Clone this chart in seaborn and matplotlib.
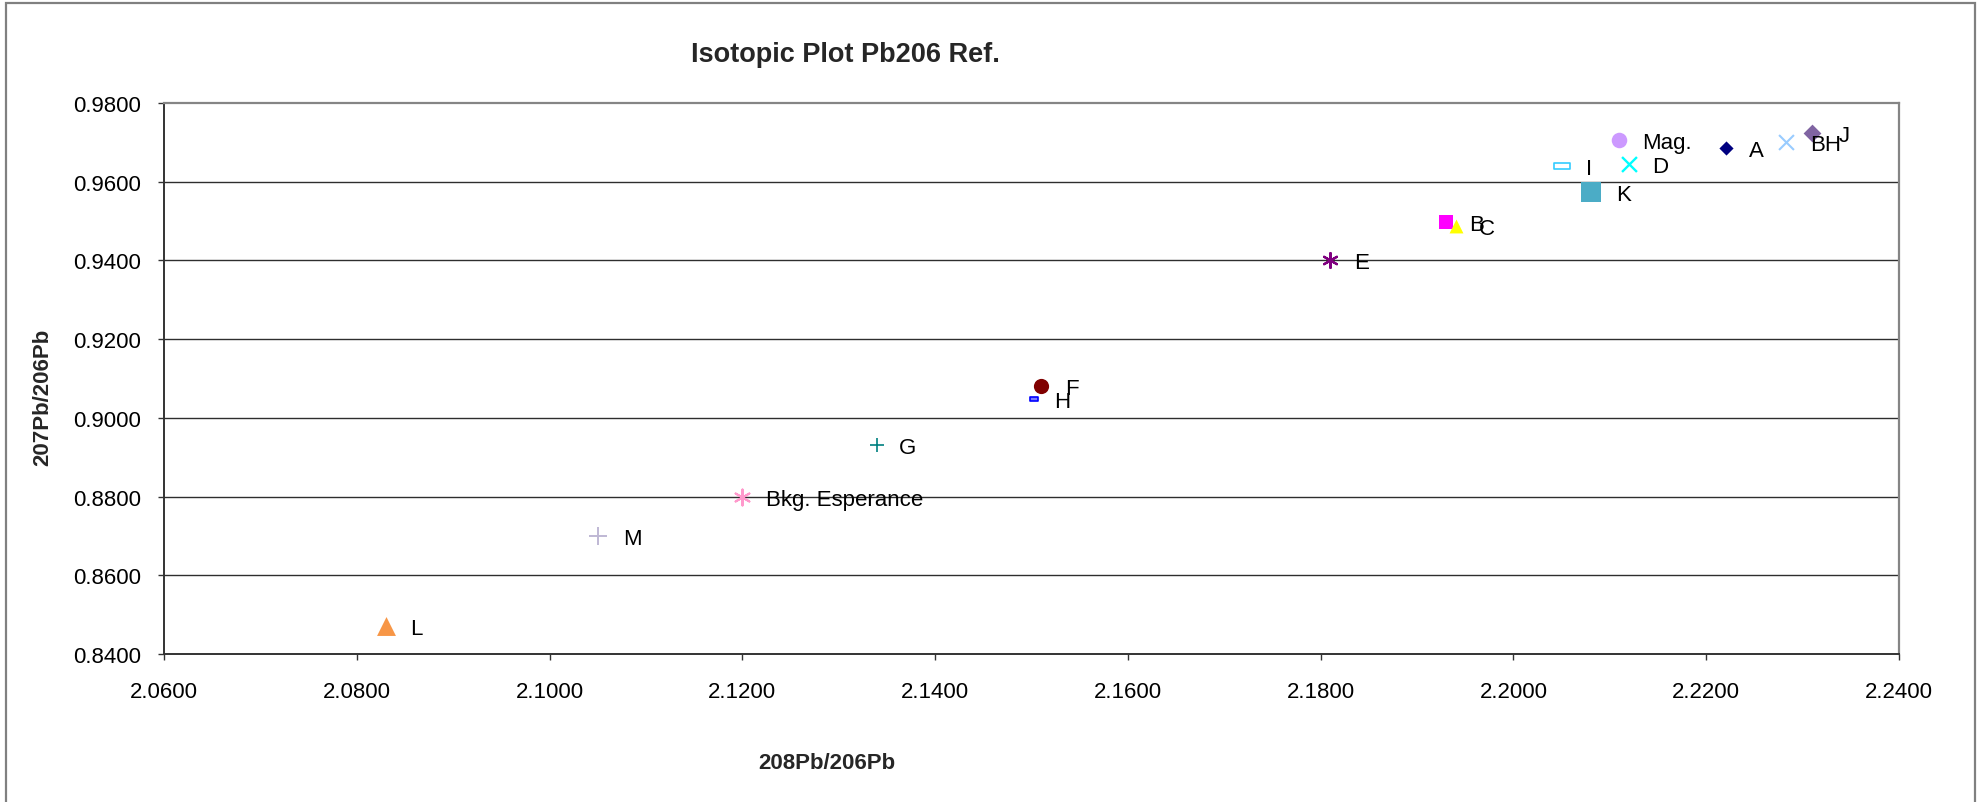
import matplotlib
matplotlib.use("Agg")
import matplotlib.pyplot as plt
from matplotlib.path import Path
from matplotlib.patches import Rectangle
from matplotlib.ticker import FormatStrFormatter
import seaborn as sns

# Sample identifiers and measured lead isotope ratios
samples = ["A", "B", "C", "D", "E", "F", "G", "H", "I", "J", "K", "L", "M",
           "Mag.", "BH", "Bkg. Esperance"]
pb208_206 = [2.2220, 2.1930, 2.1940, 2.2120, 2.1810, 2.1510, 2.1340, 2.1503,
             2.2050, 2.2310, 2.2080, 2.0830, 2.1050, 2.2110, 2.2283, 2.1200]
pb207_206 = [0.9685, 0.9497, 0.9487, 0.9645, 0.9402, 0.9080, 0.8932, 0.9048,
             0.9641, 0.9725, 0.9574, 0.8470, 0.8701, 0.9705, 0.9701, 0.8800]

x_ticks = [2.06, 2.08, 2.10, 2.12, 2.14, 2.16, 2.18, 2.20, 2.22, 2.24]
y_ticks = [0.84, 0.86, 0.88, 0.90, 0.92, 0.94, 0.96, 0.98]

# Marker shapes
dash_wide = Path([(-1, -0.36), (1, -0.36), (1, 0.36), (-1, 0.36), (-1, -0.36)],
                 [Path.MOVETO, Path.LINETO, Path.LINETO, Path.LINETO, Path.CLOSEPOLY])
dash_small = Path([(-1, -0.5), (1, -0.5), (1, 0.5), (-1, 0.5), (-1, -0.5)],
                  [Path.MOVETO, Path.LINETO, Path.LINETO, Path.LINETO, Path.CLOSEPOLY])
asterisk = (6, 2, 0)

# per-sample style: marker, face, edge, size (pt^2), edge width, label dx (px)
styles = {
    "A": ("D", "#000080", "#000080", 52, 0, 23),
    "B": ("s", "#FF00FF", "#FF00FF", 115, 0, 23),
    "C": ("^", "#FFFF00", "#FFFF00", 100, 0, 23),
    "D": ("x", "#00FFFF", "#00FFFF", 115, 1.7, 23),
    "E": (asterisk, "#800080", "#800080", 115, 1.6, 24),
    "F": ("o", "#800000", "#800000", 120, 0, 24),
    "G": ("+", "#008080", "#008080", 100, 1.2, 22),
    "H": (dash_small, "#7A7AFF", "#0000FF", 30, 1.2, 20),
    "I": (dash_wide, "white", "#33CCFF", 125, 1.2, 24),
    "J": ("D", "#8064A2", "#8064A2", 82, 0, 26),
    "K": ("s", "#4BACC6", "#4BACC6", 220, 0, 26),
    "L": ("^", "#F79646", "#F79646", 185, 0, 24),
    "M": ("+", "#BFB8D4", "#BFB8D4", 180, 1.4, 25),
    "Mag.": ("o", "#CC99FF", "#CC99FF", 125, 0, 23),
    "BH": ("x", "#99CCFF", "#99CCFF", 115, 1.5, 24),
    "Bkg. Esperance": (asterisk, "#FF99CC", "#FF99CC", 130, 1.5, 24),
}

sns.set_style("white")
plt.rcParams["font.family"] = ["Liberation Sans", "DejaVu Sans"]

fig = plt.figure(figsize=(19.8, 8.03), dpi=100)
ax = fig.add_axes([164 / 1980, 1 - 655 / 803, (1899 - 164) / 1980, (655 - 104) / 803])

for name, xv, yv in zip(samples, pb208_206, pb207_206):
    mk, fc, ec, size, lw, dx = styles[name]
    sns.scatterplot(x=[xv], y=[yv], marker=mk, s=size, color=ec,
                    facecolor=fc, edgecolor=ec, linewidth=lw, ax=ax,
                    zorder=3, clip_on=False)
    ax.annotate(name, (xv, yv), xytext=(dx, 0), textcoords="offset pixels",
                ha="left", va="center_baseline", fontsize=16, color="black",
                zorder=4)

ax.set_xlim(2.06, 2.24)
ax.set_ylim(0.84, 0.98)
ax.set_xticks(x_ticks)
ax.set_yticks(y_ticks)
ax.xaxis.set_major_formatter(FormatStrFormatter("%.4f"))
ax.yaxis.set_major_formatter(FormatStrFormatter("%.4f"))
ax.set_xlabel("")
ax.set_ylabel("")

ax.grid(False)
for yv in y_ticks[1:-1]:
    ax.axhline(yv, color="#2e2e2e", lw=1.0, zorder=1)

for side in ("top", "right"):
    ax.spines[side].set_color("#858585")
    ax.spines[side].set_linewidth(1.6)
for side in ("left", "bottom"):
    ax.spines[side].set_color("#333333")
    ax.spines[side].set_linewidth(1.4)

ax.tick_params(axis="both", direction="out", length=4.5, width=1.0,
               color="#333333", labelsize=16, labelcolor="black")
ax.tick_params(axis="y", pad=12)
ax.tick_params(axis="x", pad=15)
ax.tick_params(left=True, bottom=True)

fig.text(845 / 1980, 1 - 55 / 803, "Isotopic Plot Pb206 Ref.", ha="center",
         va="center", fontsize=19.5, fontweight="bold")
fig.text(43 / 1980, 1 - 397 / 803, "207Pb/206Pb", rotation=90, ha="center",
         va="center", fontsize=16, fontweight="bold")
fig.text(827 / 1980, 1 - 764 / 803, "208Pb/206Pb", ha="center", va="center",
         fontsize=16, fontweight="bold")

# chart frame
fig.patches.append(Rectangle((6 / 1980, -0.01), (1975 - 6) / 1980, 1.01 - 4 / 803,
                             transform=fig.transFigure, fill=False,
                             edgecolor="#808080", linewidth=1.6))

fig.savefig("out.png", dpi=100)
